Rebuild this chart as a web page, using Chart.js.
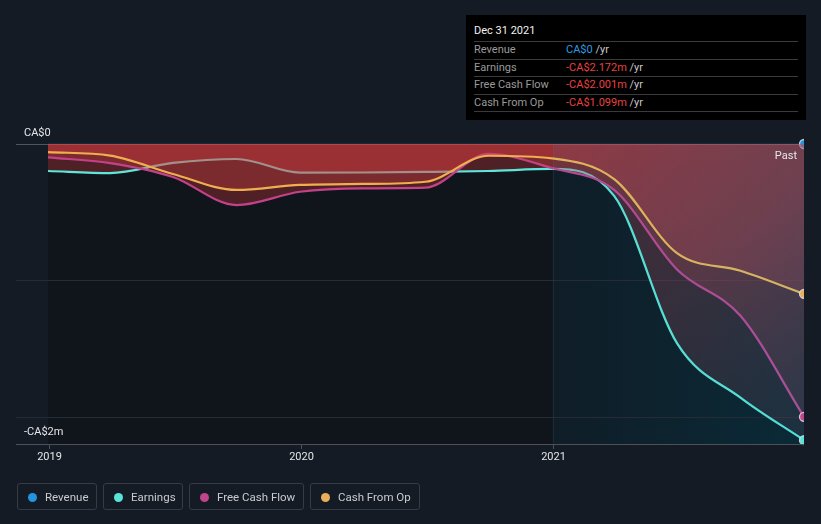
<!DOCTYPE html>
<html>
<head>
<meta charset="utf-8">
<script src="https://cdn.jsdelivr.net/npm/chart.js@4.4.1/dist/chart.umd.min.js"></script>
<style>
html,body{margin:0;padding:0;background:#151b25;width:821px;height:524px;overflow:hidden;font-family:Roboto,"Noto Sans",sans-serif}
#wrap{position:absolute;left:0;top:0;width:821px;height:524px}
#tip{position:absolute;left:466px;top:15px;width:340px;height:105px;background:#000}
#tip .t{position:absolute;left:8px;top:8px;font-size:11px;color:#f2f2f2;line-height:16px}
#tip .sep{position:absolute;left:8px;width:324px;height:1px;background:#3a3a3a}
#tip .lab{position:absolute;left:8px;font-size:11px;color:#9a9a9a;line-height:14px}
#tip .val{position:absolute;left:100px;font-size:11px;color:#c8c8c8;line-height:14px;white-space:nowrap}
.leg{position:absolute;top:483px;height:27px;border:1px solid #363c45;border-radius:3px;box-sizing:border-box;font-size:11.5px;color:#c9cbce}
.leg .dot{position:absolute;left:10px;top:9px;width:9px;height:9px;border-radius:50%}
.leg .tx{position:absolute;left:27px;top:6px;line-height:14px;white-space:nowrap}
</style>
</head>
<body>
<div id="wrap"><canvas id="c" width="821" height="524"></canvas></div>
<div id="tip"></div>
<div id="legend"></div>
<script>
// ---- data (CA$ millions, trailing twelve months) ----
const quarters = ['2018-12-31','2019-03-31','2019-06-30','2019-09-30','2019-12-31','2020-03-31','2020-06-30','2020-09-30','2020-12-31','2021-03-31','2021-06-30','2021-09-30','2021-12-31'];
const revenue  = [0,0,0,0,0,0,0,0,0,0,0,0,0];
const earnings = [-0.198,-0.213,-0.139,-0.110,-0.210,-0.209,-0.205,-0.198,-0.183,-0.380,-1.460,-1.860,-2.172];
const freeCashFlow = [-0.098,-0.140,-0.242,-0.448,-0.350,-0.325,-0.320,-0.073,-0.176,-0.337,-0.920,-1.260,-2.001];
const cashFromOp   = [-0.060,-0.085,-0.220,-0.337,-0.300,-0.293,-0.277,-0.086,-0.105,-0.257,-0.800,-0.930,-1.099];
const seriesNames = ['Revenue','Earnings','Free Cash Flow','Cash From Op'];
const seriesColors = ['#2394df','#58e4d6','#c2448a','#eaad5c'];
const xTickValues = [2019,2020,2021];
const xTickLabels = ['2019','2020','2021'];
const yTickValues = [0,-2];
const yTickLabels = ['CA$0','-CA$2m'];
const yGridValues = [0,-1,-2];
const pastStart = 2021;
const tooltipTitle = 'Dec 31 2021';

function toYear(s){
  const d = new Date(s+'T00:00:00Z');
  const y = d.getUTCFullYear();
  const start = Date.UTC(y,0,1), end = Date.UTC(y+1,0,1);
  return y + (d.getTime()-start)/(end-start);
}
const xs = quarters.map(toYear);
const pts = arr => arr.map((v,i)=>({x:xs[i], y:v}));
const last = quarters.length-1;

function hGrad(chart, leftCol, rStart, rEnd){
  const {ctx, chartArea, scales} = chart;
  if(!chartArea || !scales.x) return leftCol;
  const x0 = chartArea.left, x1 = chartArea.right;
  const f = Math.max(0, Math.min(1, (scales.x.getPixelForValue(pastStart)-x0)/(x1-x0)));
  const g = ctx.createLinearGradient(x0,0,x1,0);
  g.addColorStop(0,leftCol); g.addColorStop(f,leftCol);
  g.addColorStop(Math.min(1,f+0.0005),rStart); g.addColorStop(1,rEnd);
  return g;
}
// fill pattern: solid red in the earlier years, fading red in the "past" highlighted year
let fillPattern = null, patKey = '';
function redFill(c){
  const chart = c.chart, a = chart.chartArea, x = chart.scales.x;
  if(!a || !x) return 'rgba(225,62,64,0.30)';
  const key = [a.left,a.top,a.right,a.bottom].join(',');
  if(fillPattern && patKey===key) return fillPattern;
  const off = document.createElement('canvas');
  off.width = chart.width; off.height = chart.height;
  const o = off.getContext('2d');
  const xp = x.getPixelForValue(pastStart);
  o.fillStyle = 'rgba(225,62,64,0.30)';
  o.fillRect(0,0,xp,off.height);
  const g = o.createLinearGradient(xp, a.top, a.right, a.bottom);
  g.addColorStop(0,'rgba(205,72,82,0.31)');
  g.addColorStop(0.5,'rgba(185,82,100,0.24)');
  g.addColorStop(1,'rgba(150,95,125,0.12)');
  o.fillStyle = g;
  o.fillRect(xp,0,off.width-xp,off.height);
  fillPattern = chart.ctx.createPattern(off,'no-repeat');
  patKey = key;
  return fillPattern;
}

function ds(label, data, color, order, opts){
  return Object.assign({
    label, data: pts(data), order,
    borderColor: color, borderWidth: 2.2,
    cubicInterpolationMode: 'monotone',
    pointRadius: c => c.dataIndex === last ? 4.5 : 0,
    pointBackgroundColor: color,
    pointBorderColor: 'rgba(225,225,230,0.85)',
    pointBorderWidth: 1.3,
    clip: {left:0,right:0,top:10,bottom:10}
  }, opts||{});
}

const decor = {
  id:'decor',
  beforeDatasetsDraw(chart){
    const {ctx, chartArea:a, scales:{x,y}} = chart;
    const xp = x.getPixelForValue(pastStart);
    ctx.save();
    ctx.fillStyle = '#10141b';
    ctx.fillRect(a.left, a.top, xp-a.left, a.bottom-a.top);
    const g = ctx.createLinearGradient(xp,0,a.right,0);
    g.addColorStop(0,'#0f1d27'); g.addColorStop(1,'#0a2a37');
    ctx.fillStyle = g;
    ctx.fillRect(xp, a.top, a.right-xp, a.bottom-a.top);
    yGridValues.forEach(v=>{
      const yy = Math.round(y.getPixelForValue(v))+0.5;
      ctx.strokeStyle = v===0 ? '#50565f' : '#262c35';
      ctx.lineWidth = 1;
      ctx.beginPath(); ctx.moveTo(16,yy); ctx.lineTo(a.right,yy); ctx.stroke();
    });
    ctx.strokeStyle = 'rgba(255,255,255,0.06)';
    ctx.beginPath(); ctx.moveTo(Math.round(xp)+0.5,a.top); ctx.lineTo(Math.round(xp)+0.5,a.bottom); ctx.stroke();
    ctx.restore();
  },
  afterDatasetsDraw(chart){
    const {ctx, chartArea:a, scales:{x,y}} = chart;
    ctx.save();
    ctx.strokeStyle = '#4b5059'; ctx.lineWidth = 1;
    const yb = Math.round(a.bottom)+0.5;
    ctx.beginPath(); ctx.moveTo(16,yb); ctx.lineTo(a.right,yb); ctx.stroke();
    ctx.font = '11px Roboto, "Noto Sans", sans-serif';
    ctx.fillStyle = '#e4e6e8';
    ctx.textBaseline = 'middle';
    xTickValues.forEach((v,i)=>{
      const xx = Math.round(x.getPixelForValue(v))+0.5;
      ctx.beginPath(); ctx.moveTo(xx,a.bottom); ctx.lineTo(xx,a.bottom+5); ctx.stroke();
      ctx.textAlign='center';
      ctx.fillText(xTickLabels[i], xx, a.bottom+13);
    });
    ctx.textAlign='left';
    yTickValues.forEach((v,i)=>{
      const yy = y.getPixelForValue(v);
      ctx.fillText(yTickLabels[i], 24, v===0 ? yy-11 : yy+16);
    });
    ctx.textAlign='right';
    ctx.fillText('Past', a.right-7, a.top+12);
    ctx.restore();
  }
};

new Chart(document.getElementById('c'), {
  type:'line',
  data:{ datasets:[
    ds(seriesNames[0], revenue, seriesColors[0], 4, {borderColor:'rgba(35,148,223,0.25)', borderWidth:1, fill:false}),
    ds(seriesNames[1], earnings, seriesColors[1], 3, {fill:'origin', backgroundColor: redFill,
        borderColor: c=>hGrad(c.chart,'#5ee6d8','#58e2d6','#52dcd4')}),
    ds(seriesNames[2], freeCashFlow, seriesColors[2], 2, {fill:'origin', backgroundColor: redFill,
        borderColor: c=>hGrad(c.chart,'#c4418a','#b54992','#a84f98')}),
    ds(seriesNames[3], cashFromOp, seriesColors[3], 1, {fill:'origin', backgroundColor: redFill,
        borderColor: c=>hGrad(c.chart,'#f0ae4e','#e0b25a','#d4b462')})
  ]},
  options:{
    responsive:false, animation:false, events:[],
    layout:{padding:{left:48,right:17,top:144,bottom:80}},
    scales:{
      x:{type:'linear', display:false, min:xs[0], max:xs[last]},
      y:{type:'linear', display:false, min:-2.2, max:0}
    },
    plugins:{legend:{display:false}, tooltip:{enabled:false}, filler:{propagate:false}}
  },
  plugins:[decor]
});

// ---- tooltip box ----
function fmt(v){
  if(v===0) return 'CA$0';
  return (v<0?'-':'')+'CA$'+Math.abs(v).toFixed(3)+'m';
}
const lastVals = [revenue[last], earnings[last], freeCashFlow[last], cashFromOp[last]];
const tip = document.getElementById('tip');
let h = '<div class="t">'+tooltipTitle+'</div>';
const sepY = [26,43.5,61,78.5,96];
sepY.forEach(t=>{ h += '<div class="sep" style="top:'+t+'px"></div>'; });
seriesNames.forEach((n,i)=>{
  const top = sepY[i]+2;
  const col = lastVals[i]<0 ? '#e8413f' : '#2e9be2';
  h += '<div class="lab" style="top:'+top+'px">'+n+'</div>';
  h += '<div class="val" style="top:'+top+'px"><span style="color:'+col+'">'+fmt(lastVals[i])+'</span> /yr</div>';
});
tip.innerHTML = h;

// ---- legend ----
const legLeft = [17,103,189,310], legW = [80,80,115,110];
let lh = '';
seriesNames.forEach((n,i)=>{
  lh += '<div class="leg" style="left:'+legLeft[i]+'px;width:'+legW[i]+'px"><div class="dot" style="background:'+seriesColors[i]+'"></div><div class="tx">'+n+'</div></div>';
});
document.getElementById('legend').innerHTML = lh;
</script>
</body>
</html>
